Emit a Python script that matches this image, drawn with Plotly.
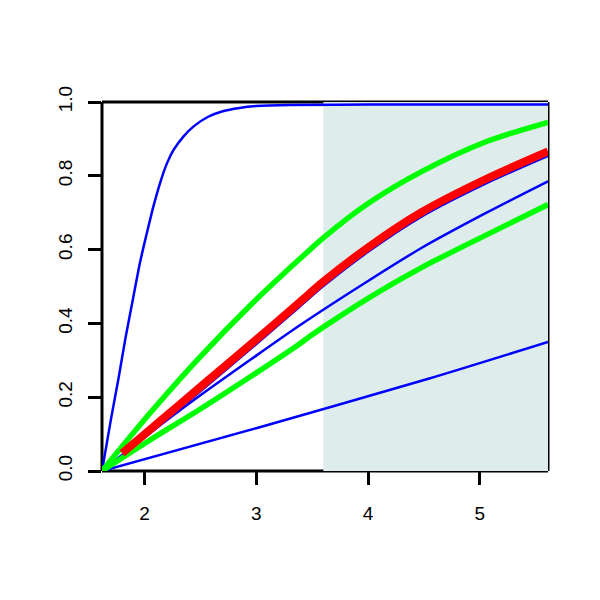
import plotly.graph_objects as go

# ---- data ----
blue_top_x = [1.62, 1.70, 1.77, 1.83, 1.89, 1.96, 2.02, 2.08, 2.14, 2.20, 2.26, 2.35, 2.44, 2.57, 2.70, 2.85, 3.00, 3.30, 4.00, 5.61]
blue_top_y = [0.0, 0.14, 0.255, 0.36, 0.455, 0.565, 0.643, 0.717, 0.781, 0.833, 0.870, 0.907, 0.934, 0.960, 0.975, 0.984, 0.989, 0.992, 0.993, 0.993]

green_up_x = [1.62, 2.05, 2.50, 2.95, 3.39, 3.60, 4.00, 4.47, 5.06, 5.61]
green_up_y = [0.0, 0.157, 0.31, 0.45, 0.575, 0.632, 0.725, 0.81, 0.893, 0.945]

red_x = [1.80, 2.10, 2.50, 2.95, 3.39, 3.60, 4.00, 4.47, 5.06, 5.61]
red_y = [0.048, 0.125, 0.228, 0.343, 0.458, 0.513, 0.606, 0.700, 0.792, 0.866]

blue_red_x = [1.62, 1.80, 2.10, 2.50, 2.95, 3.39, 3.60, 4.00, 4.47, 5.06, 5.61]
blue_red_y = [0.0, 0.042, 0.115, 0.216, 0.331, 0.446, 0.501, 0.594, 0.688, 0.780, 0.854]

blue_mid_x = [1.62, 2.05, 2.50, 2.95, 3.39, 4.00, 4.47, 5.06, 5.61]
blue_mid_y = [0.0, 0.103, 0.205, 0.302, 0.395, 0.515, 0.603, 0.700, 0.785]

green_lo_x = [1.62, 2.05, 2.50, 2.95, 3.39, 3.48, 3.60, 4.00, 4.47, 5.06, 5.61]
green_lo_y = [0.0, 0.084, 0.168, 0.256, 0.345, 0.365, 0.39, 0.468, 0.55, 0.64, 0.722]

blue_low_x = [1.62, 3.00, 4.54, 5.61]
blue_low_y = [0.0, 0.116, 0.25, 0.35]

shade_x = [3.6, 5.61]
x_range = [1.62, 5.61]
y_range = [0.0, 1.0]
x_ticks = [2, 3, 4, 5]
y_ticks = [0.0, 0.2, 0.4, 0.6, 0.8, 1.0]

BLUE, GREEN, RED = "#0000FF", "#00FF00", "#FF0000"

fig = go.Figure()

def add(x, y, color, width):
    fig.add_trace(go.Scatter(x=x, y=y, mode="lines",
                             line=dict(color=color, width=width, shape="spline", smoothing=0.8),
                             showlegend=False, hoverinfo="skip"))

add(blue_top_x, blue_top_y, BLUE, 2.5)
add(blue_red_x, blue_red_y, BLUE, 2.5)
add(blue_mid_x, blue_mid_y, BLUE, 2.5)
add(blue_low_x, blue_low_y, BLUE, 2.5)
add(green_up_x, green_up_y, GREEN, 5.5)
add(green_lo_x, green_lo_y, GREEN, 5.5)
add(red_x, red_y, RED, 8)

shapes = []
# thick frame (box)
for (x0, y0, x1, y1) in [(0, 0, 0, 1), (0, 0, 1, 0), (0, 1, 1, 1), (1, 0, 1, 1)]:
    shapes.append(dict(type="line", xref="paper", yref="paper", x0=x0, y0=y0, x1=x1, y1=y1,
                       line=dict(color="black", width=3), layer="below"))
# shaded rectangle drawn over the box (no border)
shapes.append(dict(type="rect", xref="x", yref="y", x0=shade_x[0], x1=shade_x[1], y0=y_range[0], y1=y_range[1],
                   fillcolor="#DFECEC", line=dict(width=0), layer="below"))

fig.update_layout(
    width=600, height=600,
    margin=dict(l=94, r=60, t=94, b=137),
    paper_bgcolor="white", plot_bgcolor="white",
    font=dict(family="Liberation Sans, Arial, sans-serif", size=19, color="black"),
    shapes=shapes,
    xaxis=dict(range=x_range, tickvals=x_ticks, ticktext=[str(v) for v in x_ticks],
               showgrid=False, zeroline=False, showline=False,
               ticks="outside", ticklen=13, tickwidth=3, tickcolor="black", ticklabelstandoff=12),
    yaxis=dict(range=y_range, tickvals=y_ticks, ticktext=[f"{v:.1f}" for v in y_ticks],
               showgrid=False, zeroline=False, showline=False, tickangle=-90,
               ticks="outside", ticklen=13, tickwidth=3, tickcolor="black", ticklabelstandoff=8),
)

fig.write_html("out.html")
